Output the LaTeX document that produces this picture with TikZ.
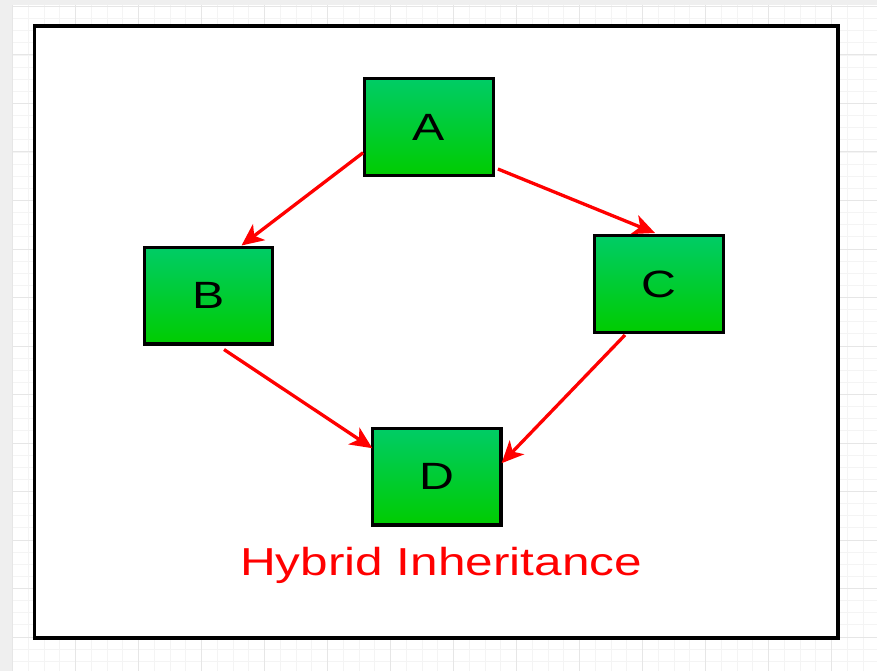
\documentclass[tikz,border=0pt]{standalone}
\usepackage{fontspec}
\usepackage{graphicx}
\setmainfont{Liberation Sans}
\usetikzlibrary{arrows.meta}
\definecolor{gridmaj}{HTML}{E6E6E6}
\definecolor{gridmin}{HTML}{F4F4F4}
\definecolor{stripgray}{HTML}{EFEFEF}
\definecolor{gtop}{RGB}{0,204,102}
\definecolor{gbot}{RGB}{0,204,0}
\newcommand\sxx[1]{\scalebox{1.27}[1]{#1}}
\begin{document}
\begin{tikzpicture}[x=1pt,y=-1pt,
  cls/.style={draw=black, line width=3.3pt, minimum width=128.5pt, minimum height=96.7pt,
    top color=gtop, bottom color=gbot, inner sep=0pt, font=\fontsize{38}{45}\selectfont},
  inh/.style={draw=red, line width=3.3pt, arrows={-Stealth[length=22pt, width=20pt, inset=6pt]}},
  gmin/.style={draw=gridmin, line width=0.8pt},
  gmaj/.style={draw=gridmaj, line width=1pt},
  title/.style={text=red, font=\fontsize{39}{47}\selectfont, inner sep=0pt, anchor=base}
]
\useasboundingbox (0,0) rectangle (877,671);
\fill[white] (0,0) rectangle (877,671);
% grid
\foreach \i in {0,...,55} {
  \draw[gmin] ({12.5+15.75*\i},0) -- ({12.5+15.75*\i},671);
  \draw[gmin] (0,{6.5+12.125*\i}) -- (877,{6.5+12.125*\i});
}
\foreach \i in {0,...,13} {
  \draw[gmaj] ({12.5+63*\i},0) -- ({12.5+63*\i},671);
  \draw[gmaj] (0,{6.5+48.5*\i}) -- (877,{6.5+48.5*\i});
}
% strips
\fill[stripgray] (0,0) rectangle (12,671);
\fill[stripgray] (0,0) rectangle (877,5);
% frame
\draw[line width=3.6pt, fill=white] (34.5,26) rectangle (838,638);
% classes
\node[cls] (A) at (429,127) {\sxx{A}};
\node[cls] (B) at (208.5,295.5) {\sxx{B}};
\node[cls] (C) at (659,284) {\sxx{C}};
\node[cls] (D) at (436.7,476.7) {\sxx{D}};
% connectors
\draw[inh] ([yshift=-25.7pt]A.west) -- ([xshift=33pt]B.north);
\draw[inh] ([xshift=3pt,yshift=-42pt]A.east) -- ([xshift=-4pt,yshift=1pt]C.north);
\draw[inh] ([xshift=15.5pt,yshift=-4pt]B.south) -- ([xshift=1.5pt,yshift=28.5pt]D.west);
\draw[inh] ([xshift=-34pt,yshift=-1pt]C.south) -- ([xshift=-1pt,yshift=13.5pt]D.east);
% title
\node[title] (T) at (441,575) {\sxx{Hybrid Inheritance}};
\end{tikzpicture}
\end{document}
